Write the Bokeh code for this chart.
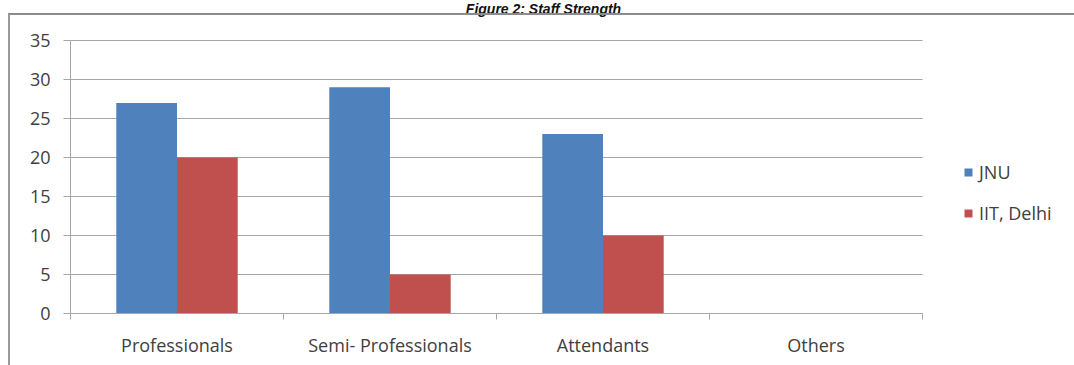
from bokeh.plotting import figure
from bokeh.models import (ColumnDataSource, Range1d, FixedTicker, Legend,
                          LegendItem, Label, InlineStyleSheet)
from bokeh.transform import dodge
from bokeh.embed import file_html
from bokeh.resources import INLINE

categories = ["Professionals", "Semi- Professionals", "Attendants", "Others"]
jnu = [27, 29, 23, 0]
iit_delhi = [20, 5, 10, 0]
series_names = ["JNU", "IIT, Delhi"]
y_ticks = [0, 5, 10, 15, 20, 25, 30, 35]
y_max = 35
title_text = "Figure 2: Staff Strength"

FONT = "Open Sans"
TXT = "#404040"
GRID = "#a6a6a6"
BLUE = "#4F81BD"
RED = "#C0504D"

W, H = 1074, 365
LEFT, BOTTOM = 70, 52          # space for the axes
PLOT_RIGHT, PLOT_TOP = 922, 40  # where the bar area ends (right) and where y_max sits (top)

n = len(categories)
centers = [i + 0.5 for i in range(n)]  # category slot centres on a 0..n index axis
source = ColumnDataSource(dict(cat=categories, pos=centers, jnu=jnu, iit=iit_delhi))

# the frame spans the whole canvas to the right and top, so the legend and title
# can live inside it; the ranges are extended so the bar area keeps its place
frame_w = W - LEFT
frame_h = H - BOTTOM
x_end = n * frame_w / (PLOT_RIGHT - LEFT)
y_end = y_max * frame_h / (frame_h - PLOT_TOP)

p = figure(width=W, height=H, x_range=Range1d(0, x_end), y_range=Range1d(0, y_end),
           title=None, output_backend="svg", toolbar_location=None,
           min_border_left=LEFT, min_border_right=0, min_border_top=0, min_border_bottom=BOTTOM)
p.outline_line_color = None
p.background_fill_color = "white"
p.border_fill_color = "white"
p.xgrid.visible = False

bw = 0.285
r1 = p.vbar(x=dodge("pos", -bw / 2), top="jnu", width=bw, source=source,
            fill_color=BLUE, line_color=None)
r2 = p.vbar(x=dodge("pos", bw / 2), top="iit", width=bw, source=source,
            fill_color=RED, line_color=None)

# y axis
yax = p.yaxis[0]
yax.ticker = FixedTicker(ticks=y_ticks)
yax.bounds = (0, y_max)
yax.axis_line_color = GRID
yax.major_tick_line_color = GRID
yax.major_tick_out = 7
yax.major_tick_in = 0
yax.minor_tick_line_color = None
yax.major_label_standoff = 13
yax.major_label_text_font = FONT
yax.major_label_text_font_size = "18px"
yax.major_label_text_color = TXT
p.ygrid.grid_line_color = GRID
p.ygrid.ticker = FixedTicker(ticks=y_ticks)
p.ygrid.cross_bounds = (0, n)

# x axis: labels at category centers, tick marks at category boundaries
xax = p.xaxis[0]
xax.ticker = FixedTicker(ticks=centers, minor_ticks=list(range(n + 1)))
xax.bounds = (0, n)
xax.major_label_overrides = {c: lab for c, lab in zip(centers, categories)}
xax.axis_line_color = GRID
xax.major_tick_line_color = None
xax.major_tick_out = 0
xax.major_tick_in = 0
xax.minor_tick_line_color = GRID
xax.minor_tick_out = 6
xax.minor_tick_in = 0
xax.major_label_standoff = 13
xax.major_label_text_font = FONT
xax.major_label_text_font_size = "18px"
xax.major_label_text_color = TXT

# legend to the right of the bar area
legend = Legend(items=[LegendItem(label=series_names[0], renderers=[r1]),
                       LegendItem(label=series_names[1], renderers=[r2])],
                location=(893, 88), orientation="vertical",
                glyph_width=10, glyph_height=10, label_height=20, spacing=17,
                label_standoff=6, padding=0, margin=0,
                border_line_color=None, background_fill_alpha=0,
                label_text_font=FONT, label_text_font_size="18px", label_text_color=TXT)
p.add_layout(legend, "center")

# title at the very top
title = Label(x=473, y=frame_h, x_units="screen", y_units="screen", text=title_text,
              text_align="center", text_baseline="top",
              text_font="Liberation Sans", text_font_style="bold italic",
              text_font_size="14px", text_color="#111111")
p.add_layout(title)

# thin frame (left and top edges) around the embedded chart, as in the reference
p.stylesheets = [InlineStyleSheet(css="""
:host { position: relative; }
:host::after {
  content: ""; position: absolute; left: 8px; top: 13px; right: 0; bottom: 0;
  border-left: 2px solid #9a9a9a; border-top: 2px solid #8c8c8c;
  pointer-events: none; z-index: 10;
}
""")]

open("out.html", "w").write(file_html(p, INLINE))
